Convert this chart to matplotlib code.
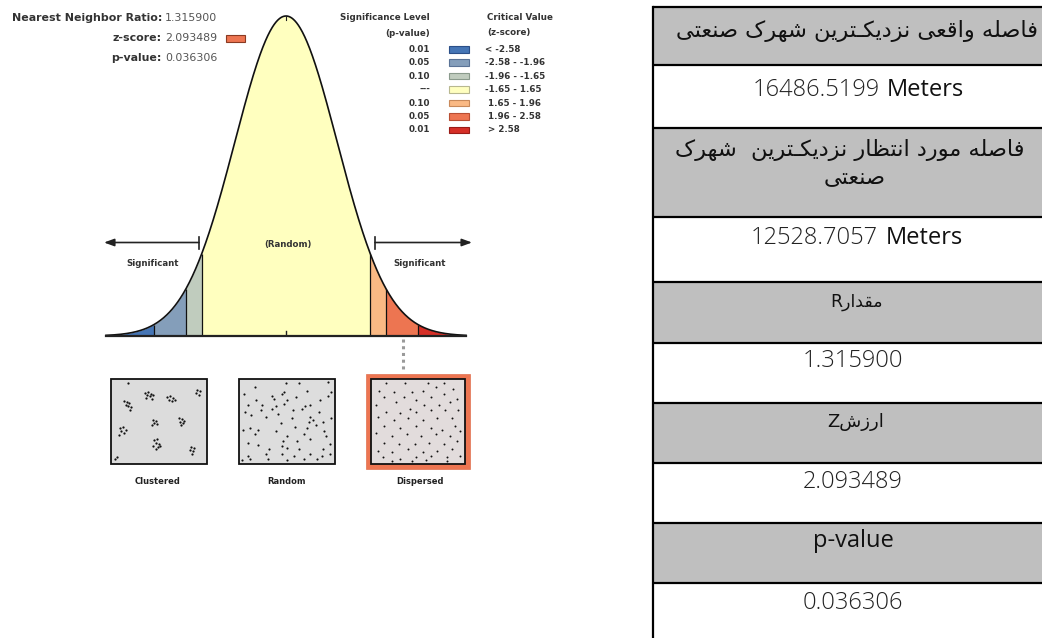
import numpy as np
import matplotlib
matplotlib.use("Agg")
import matplotlib.pyplot as plt
from matplotlib.patches import Rectangle

# ---------------- data ----------------
nn_ratio = 1.315900
z_score = 2.093489
p_value = 0.036306
observed_dist = 16486.5199
expected_dist = 12528.7057

critical_values = [-2.58, -1.96, -1.65, 1.65, 1.96, 2.58]
region_colors = ["#4575b5", "#849eba", "#c0ccbe", "#ffffbf", "#fab984", "#ed7551", "#d62f27"]
legend_p = ["0.01", "0.05", "0.10", "---", "0.10", "0.05", "0.01"]
legend_z = ["< -2.58", "-2.58 - -1.96", "-1.96 - -1.65", "-1.65 - 1.65",
            " 1.65 - 1.96", " 1.96 - 2.58", " > 2.58"]
pattern_labels = ["Clustered", "Random", "Dispersed"]

# table texts (logical order)
row1_fa = "فاصله واقعی نزدیکـترین شهرک صنعتی"
row3_fa_l1 = "فاصله مورد انتظار نزدیکـترین  شهرک"
row3_fa_l2 = "صنعتی"
row5_fa = "مقدار"
row7_fa = "ارزش"

# dot patterns (icon units; origin top-left)
clustered_dots = [(33,12),(36,11),(39,13),(35,15),(38,16),(41,15),(34,18),(40,19),
                  (56,17),(59,16),(62,18),(58,20),(61,21),(64,20),
                  (11,21),(14,22),(17,23),(13,25),(16,26),(19,27),(18,30),
                  (87,9),(90,10),(86,12),(89,14),
                  (41,40),(44,41),(42,44),(45,45),(40,46),
                  (68,38),(71,39),(73,41),(69,42),(72,44),(70,46),
                  (7,49),(10,48),(13,51),(8,52),(11,54),(6,56),
                  (42,61),(45,60),(44,64),(47,65),(41,67),(46,68),(49,67),(44,71),
                  (81,68),(84,69),(80,72),(83,73),(82,76),
                  (2,81),(4,79),(15,2)]
clustered_ext = (95, 84)
random_dots = [(62,35),(155,22),(195,20),(285,18),(150,48),(220,45),(28,55),(112,60),(145,55),
               (188,65),(295,50),(65,75),(118,70),(160,75),(260,75),(285,62),(40,90),(82,88),
               (125,92),(150,85),(215,92),(228,88),(30,110),(78,105),(112,100),(178,105),
               (205,100),(258,110),(50,120),(95,125),(130,118),(175,128),(230,125),(295,130),
               (140,145),(225,140),(240,135),(248,150),(270,142),(45,160),(70,165),(125,170),
               (185,158),(220,160),(272,168),(25,165),(60,178),(210,180),(160,185),(280,185),
               (148,200),(190,200),(230,195),(40,205),(70,212),(145,215),(160,222),(290,210),
               (105,225),(195,225),(270,225),(95,240),(40,245),(145,240),(180,245),(230,240),
               (265,245),(290,240),(45,255),(100,255),(160,258),(210,255),(250,255),(20,258)]
random_off = (18, 15)
random_ext = (282, 250)
dispersed_dots = [(70,155),(130,157),(200,155),(250,157),
                  (50,180),(95,183),(150,185),(185,180),(225,170),(280,175),
                  (65,200),(125,200),(165,210),(210,200),(250,190),(290,205),
                  (40,225),(100,215),(145,235),(190,225),(235,225),(270,215),
                  (70,245),(115,250),(165,245),(210,240),(255,240),(295,240),
                  (45,260),(95,270),(140,265),(185,270),(230,265),(275,265),
                  (65,290),(115,295),(165,290),(210,295),(245,300),(285,290),
                  (40,310),(90,320),(135,315),(180,320),(225,315),(270,320),(300,305),
                  (65,340),(110,345),(160,345),(205,340),(250,345),(290,335),
                  (45,365),(90,370),(140,360),(185,370),(230,365),(275,360),
                  (60,385),(115,390),(165,385),(210,380),(260,385),(300,380),
                  (90,397),(150,398),(195,395),(260,397)]
dispersed_off = (30, 150)
dispersed_ext = (280, 250)

# ---------------- Persian shaping ----------------
FORMS = {
    'ا': ('\uFE8D', '\uFE8E', None, None),
    'د': ('\uFEA9', '\uFEAA', None, None),
    'ر': ('\uFEAD', '\uFEAE', None, None),
    'ز': ('\uFEAF', '\uFEB0', None, None),
    'و': ('\uFEED', '\uFEEE', None, None),
    'ت': ('\uFE95', '\uFE96', '\uFE97', '\uFE98'),
    'ش': ('\uFEB5', '\uFEB6', '\uFEB7', '\uFEB8'),
    'ص': ('\uFEB9', '\uFEBA', '\uFEBB', '\uFEBC'),
    'ظ': ('\uFEC5', '\uFEC6', '\uFEC7', '\uFEC8'),
    'ع': ('\uFEC9', '\uFECA', '\uFECB', '\uFECC'),
    'ف': ('\uFED1', '\uFED2', '\uFED3', '\uFED4'),
    'ق': ('\uFED5', '\uFED6', '\uFED7', '\uFED8'),
    'ل': ('\uFEDD', '\uFEDE', '\uFEDF', '\uFEE0'),
    'م': ('\uFEE1', '\uFEE2', '\uFEE3', '\uFEE4'),
    'ن': ('\uFEE5', '\uFEE6', '\uFEE7', '\uFEE8'),
    'ه': ('\uFEE9', '\uFEEA', '\uFEEB', '\uFEEC'),
    'ی': ('\uFBFC', '\uFBFD', '\uFBFE', '\uFBFF'),
    'ک': ('\uFB8E', '\uFB8F', '\uFB90', '\uFB91'),
    'ـ': ('\u0640', '\u0640', '\u0640', '\u0640'),
}


def shape(s):
    """Contextual Arabic-script shaping + visual (left-to-right) ordering."""
    out = []
    for i, c in enumerate(s):
        if c not in FORMS:
            out.append(c)
            continue
        f = FORMS[c]
        prev = s[i - 1] if i > 0 else ''
        nxt = s[i + 1] if i + 1 < len(s) else ''
        jp = prev in FORMS and FORMS[prev][2] is not None
        jn = f[2] is not None and nxt in FORMS
        if jp and jn:
            g = f[3]
        elif jp:
            g = f[1]
        elif jn:
            g = f[2]
        else:
            g = f[0]
        out.append(g)
    return ''.join(reversed(out))


# ---------------- figure ----------------
W, H = 1042, 638
fig = plt.figure(figsize=(W / 100, H / 100), dpi=100)
bg = fig.add_axes([0, 0, 1, 1])
bg.set_xlim(0, W)
bg.set_ylim(H, 0)
bg.axis("off")
bg.set_zorder(2)

TXT = "#333333"
VAL = "#555555"

# ---- normal curve ----
def pdf(z):
    return np.exp(-0.5 * np.asarray(z) ** 2) / np.sqrt(2 * np.pi)

z_lo, z_hi = -3.52, 3.52
ax = fig.add_axes([106 / W, (H - 336) / H, 360 / W, 320 / H])
ax.set_zorder(1)
ax.set_xlim(z_lo, z_hi)
ax.set_ylim(0, pdf(0))
ax.axis("off")
bounds = [z_lo] + critical_values + [z_hi]
for i in range(len(bounds) - 1):
    zz = np.linspace(bounds[i], bounds[i + 1], 200)
    ax.fill_between(zz, 0, pdf(zz), color=region_colors[i], lw=0)
ax.vlines(critical_values, 0, pdf(critical_values), color="#111111", lw=0.9)
zc = np.linspace(z_lo, z_hi, 800)
ax.plot(zc, pdf(zc), color="#111111", lw=1.2, clip_on=False)
ax.plot([z_lo, z_hi], [0, 0], color="#222222", lw=1.6, clip_on=False)
ax.plot([0, 0], [0, 0.006], color="#222222", lw=1.0)
ax.plot([0, 0], [pdf(0) - 0.005, pdf(0)], color="#222222", lw=0.8, clip_on=False)

# ---- header text ----
hfont = dict(family="DejaVu Sans", fontsize=7.9)
lab_x, val_x = 162, 165
for y, lab, val in [(18, "Nearest Neighbor Ratio:", f"{nn_ratio:.6f}"),
                    (38, "z-score:", f"{z_score:.6f}"),
                    (58, "p-value:", f"{p_value:.6f}")]:
    bg.text(lab_x, y, lab, ha="right", va="center", fontweight="bold", color=TXT, **hfont)
    bg.text(val_x, y, val, ha="left", va="center", color=VAL, **hfont)
bg.add_patch(Rectangle((226, 35), 19, 6.5, facecolor=region_colors[5], edgecolor="#8a3a22", lw=0.8))

# ---- legend ----
lfont = dict(family="DejaVu Sans", fontsize=6.3, fontweight="bold", color=TXT)
bg.text(430, 18, "Significance Level", ha="right", va="center", **lfont)
bg.text(430, 33, "(p-value)", ha="right", va="center", **lfont)
bg.text(487, 18, "Critical Value", ha="left", va="center", **lfont)
bg.text(487, 33, "(z-score)", ha="left", va="center", **lfont)
edge_cols = ["#2b4f88", "#5a7396", "#8a9a8c", "#b8b890", "#c8895a", "#b84e33", "#9a1c17"]
for i in range(7):
    y = 49.3 + i * 13.45
    bg.text(430, y, legend_p[i], ha="right", va="center", **lfont)
    bg.add_patch(Rectangle((449, y - 3.3), 19.5, 6.6, facecolor=region_colors[i],
                           edgecolor=edge_cols[i], lw=0.8))
    bg.text(485, y, legend_z[i], ha="left", va="center", **lfont)

# ---- arrows / labels on curve ----
ay = 242.5
for x_from, x_to in [(199, 104), (375, 472)]:
    bg.annotate("", xy=(x_to, ay), xytext=(x_from, ay),
                arrowprops=dict(arrowstyle="-|>,head_length=0.6,head_width=0.22", color="#222222",
                                lw=1.2, shrinkA=0, shrinkB=0))
    bg.plot([x_from, x_from], [236.5, 248.5], color="#222222", lw=1.2)
sfont = dict(family="DejaVu Sans", fontsize=6.2, fontweight="bold", color=TXT)
bg.text(153, 263.5, "Significant", ha="center", va="center", **sfont)
bg.text(420, 263.5, "Significant", ha="center", va="center", **sfont)
bg.text(288, 244, "(Random)", ha="center", va="center", **sfont)

# dotted connector
bg.plot([403, 403], [339, 372], color="#9a9a9a", lw=2.2, dashes=(1.0, 1.2), solid_capstyle="butt")

# ---- pattern boxes ----
boxes = [(111, 379, 96, 85), (239, 379, 96, 85), (371, 379, 94, 85)]
bg.add_patch(Rectangle((366, 374), 104, 95, facecolor=region_colors[5], edgecolor="#e07050", lw=0.5))
box_fc = ["#dcdcdc", "#dddddd", "#e2dcdc"]
for (x0, y0, w, h), fc in zip(boxes, box_fc):
    bg.add_patch(Rectangle((x0, y0), w, h, facecolor=fc, edgecolor="#111111", lw=1.3, zorder=3))


def draw_dots(pts, off, ext, box, size):
    x0, y0, w, h = box
    xs = [x0 + 2 + (p[0] - off[0]) / ext[0] * (w - 4) for p in pts]
    ys = [y0 + 2 + (p[1] - off[1]) / ext[1] * (h - 4) for p in pts]
    bg.scatter(xs, ys, s=size, color="#111111", lw=0, zorder=4)


draw_dots(clustered_dots, (0, 0), clustered_ext, boxes[0], 2.6)
draw_dots(random_dots, random_off, random_ext, boxes[1], 2.4)
draw_dots(dispersed_dots, dispersed_off, dispersed_ext, boxes[2], 2.0)

pfont = dict(family="DejaVu Sans", fontsize=6.0, fontweight="bold", color="#222222")
for x, lab in zip([158, 287, 420], pattern_labels):
    bg.text(x, 482, lab, ha="center", va="center", **pfont)

# ---------------- table ----------------
row_edges = [7, 65, 128, 217, 282, 343, 403, 463, 523, 583, 645]
row_gray = [True, False, True, False, True, False, True, False, True, False]
tx0, tx1 = 653, 1060
for i in range(len(row_edges) - 1):
    if row_gray[i]:
        bg.add_patch(Rectangle((tx0, row_edges[i]), tx1 - tx0, row_edges[i + 1] - row_edges[i],
                               facecolor="#bfbfbf", edgecolor="none", zorder=1))
for y in row_edges[:-1]:
    bg.plot([tx0, tx1], [y, y], color="#000000", lw=1.6, zorder=5, solid_capstyle="butt")
bg.plot([tx0, tx0], [row_edges[0], H + 5], color="#000000", lw=1.6, zorder=5)

fa_big = dict(family="DejaVu Sans", fontsize=16.2, color="#111111")
num_font = dict(family="Open Sans", fontsize=17, fontweight="light", color="#222222")
met_font = dict(family="Open Sans", fontsize=17, color="#111111")

bg.text(857, 31, shape(row1_fa), ha="center", va="center", **fa_big)
bg.text(880, 90, f"{observed_dist:.4f}", ha="right", va="center", **num_font)
bg.text(887, 90, "Meters", ha="left", va="center", **met_font)
bg.text(850, 150, shape(row3_fa_l1), ha="center", va="center", **fa_big)
bg.text(855, 178, shape(row3_fa_l2), ha="center", va="center", **fa_big)
bg.text(878, 238, f"{expected_dist:.4f}", ha="right", va="center", **num_font)
bg.text(886, 238, "Meters", ha="left", va="center", **met_font)
bg.text(856, 302, "R" + shape(row5_fa), ha="center", va="center",
        family="DejaVu Sans", fontsize=12.5, color="#111111")
bg.text(853, 361, f"{nn_ratio:.6f}", ha="center", va="center", **num_font)
bg.text(856, 422, "Z" + shape(row7_fa), ha="center", va="center",
        family="DejaVu Sans", fontsize=13, color="#111111")
bg.text(853, 482, f"{z_score:.6f}", ha="center", va="center", **num_font)
bg.text(853, 541, "p-value", ha="center", va="center", **met_font)
bg.text(853, 603, f"{p_value:.6f}", ha="center", va="center", **num_font)

fig.savefig("out.png", dpi=100)
